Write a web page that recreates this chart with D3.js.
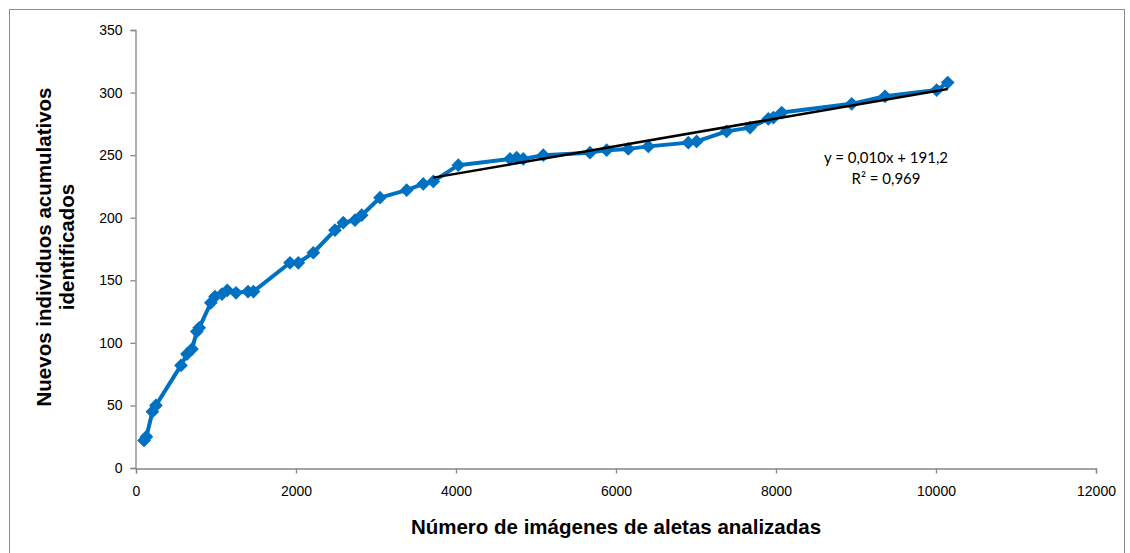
<!DOCTYPE html>
<html>
<head>
<meta charset="utf-8">
<script src="https://cdn.jsdelivr.net/npm/d3@7"></script>
<style>
  html, body { margin: 0; padding: 0; background: #fff; }
  svg { display: block; }
</style>
</head>
<body>
<svg id="chart" width="1130" height="553"></svg>
<script>
// Images analysed (cumulative) and new individuals identified (cumulative)
const imagesAnalysed = [
  100, 130, 205, 249, 562, 637, 700, 760, 790, 935, 987, 1075, 1141, 1250, 1400, 1469,
  1925, 2029, 2216, 2487, 2591, 2737, 2821, 3050, 3383, 3591, 3716, 4029, 4675, 4758,
  4841, 5091, 5675, 5883, 6154, 6404, 6904, 7008, 7383, 7675, 7904, 7967, 8071, 8946,
  9363, 10008, 10146
];
const newIndividuals = [
  22, 25, 45, 50, 82, 91, 95, 109, 112, 132, 137, 139, 142, 140, 141, 141,
  164, 164, 172, 190, 196, 198, 202, 216, 222, 227, 229, 242, 247, 248,
  247, 250, 252, 254, 255, 257, 260, 261, 269, 272, 279, 280, 284, 291,
  297, 302, 308
];
const xTicks = [0, 2000, 4000, 6000, 8000, 10000, 12000];
const yTicks = [0, 50, 100, 150, 200, 250, 300, 350];
const trendFrom = 3716;                 // linear trend fitted from this image count on
const trendLabel = ["y = 0,010x + 191,2", "R\u00b2 = 0,969"];
const xTitle = "N\u00famero de im\u00e1genes de aletas analizadas";
const yTitle = ["Nuevos individuos acumulativos", "identificados"];

const data = imagesAnalysed.map((x, i) => ({ x, y: newIndividuals[i] }));

const svg = d3.select("#chart");
const plot = { left: 136, right: 1096, top: 30, bottom: 468 };
const x = d3.scaleLinear().domain([0, 12000]).range([plot.left, plot.right]);
const y = d3.scaleLinear().domain([0, 350]).range([plot.bottom, plot.top]);
const axisColor = "#868686";
const blue = "#0070C0";
const sans = "'Liberation Sans', Arial, sans-serif";

// Outer frame
svg.append("rect")
  .attr("x", 9.5).attr("y", 9.5).attr("width", 1115).attr("height", 560)
  .attr("fill", "none").attr("stroke", "#8c8c8c").attr("stroke-width", 1);

// Axes
const yAxis = svg.append("g")
  .attr("transform", `translate(${plot.left - 0.5},0)`)
  .call(d3.axisLeft(y).tickValues(yTicks).tickSize(5).tickPadding(8).tickFormat(d3.format("d")));
const xAxis = svg.append("g")
  .attr("transform", `translate(0,${plot.bottom + 0.5})`)
  .call(d3.axisBottom(x).tickValues(xTicks).tickSize(5).tickPadding(13).tickFormat(d3.format("d")));
[xAxis, yAxis].forEach(g => {
  g.select(".domain").attr("stroke", axisColor).attr("stroke-width", 1.3);
  g.selectAll(".tick line").attr("stroke", axisColor).attr("stroke-width", 1.3);
  g.selectAll(".tick text")
    .attr("fill", "#000")
    .style("font-family", sans)
    .style("font-size", "14px");
});

// Data series: line with diamond markers
const line = d3.line().x(d => x(d.x)).y(d => y(d.y));
svg.append("path")
  .datum(data)
  .attr("d", line)
  .attr("fill", "none")
  .attr("stroke", blue)
  .attr("stroke-width", 4)
  .attr("stroke-linejoin", "round");

const diamond = d3.symbol().type(d3.symbolDiamond2).size(120);
svg.append("g").selectAll("path")
  .data(data)
  .join("path")
  .attr("transform", d => `translate(${x(d.x)},${y(d.y)})`)
  .attr("d", diamond)
  .attr("fill", blue);

// Linear least-squares trend over the later part of the series
const fitPts = data.filter(d => d.x >= trendFrom);
const mx = d3.mean(fitPts, d => d.x), my = d3.mean(fitPts, d => d.y);
const slope = d3.sum(fitPts, d => (d.x - mx) * (d.y - my)) / d3.sum(fitPts, d => (d.x - mx) ** 2);
const intercept = my - slope * mx;
const xEnds = d3.extent(fitPts, d => d.x);
svg.append("line")
  .attr("x1", x(xEnds[0])).attr("y1", y(intercept + slope * xEnds[0]))
  .attr("x2", x(xEnds[1])).attr("y2", y(intercept + slope * xEnds[1]))
  .attr("stroke", "#000").attr("stroke-width", 2.5);

// Trend equation
svg.append("g").selectAll("text")
  .data(trendLabel)
  .join("text")
  .attr("x", 886).attr("y", (d, i) => 163 + i * 21)
  .attr("text-anchor", "middle")
  .style("font-family", "Lato, 'Open Sans', sans-serif")
  .style("font-size", "15px")
  .attr("fill", "#000")
  .text(d => d);

// Axis titles
svg.append("text")
  .attr("x", 616).attr("y", 534)
  .attr("text-anchor", "middle")
  .style("font-family", sans)
  .style("font-size", "20.5px").style("font-weight", "bold")
  .text(xTitle);

svg.append("g")
  .attr("transform", "translate(0,247) rotate(-90)")
  .selectAll("text")
  .data(yTitle)
  .join("text")
  .attr("x", 0).attr("y", (d, i) => 51 + i * 23)
  .attr("text-anchor", "middle")
  .style("font-family", sans)
  .style("font-size", "20.5px").style("font-weight", "bold")
  .text(d => d);
</script>
</body>
</html>
